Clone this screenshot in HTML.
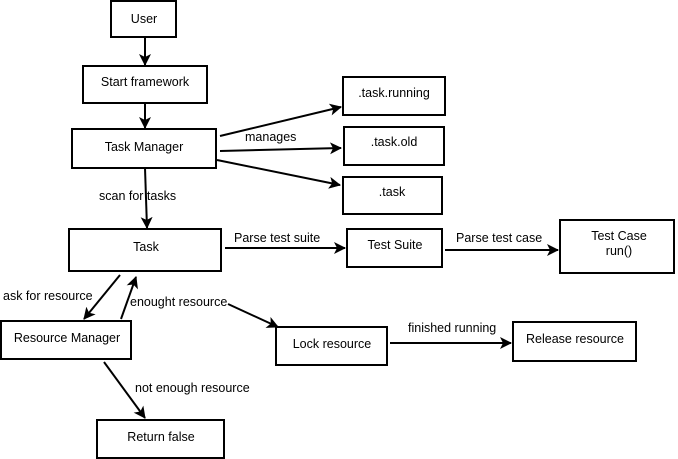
<!DOCTYPE html>
<html><head><style>
body{margin:0;background:#fff}
svg{display:block}
text{font-family:"Liberation Sans",sans-serif;font-size:12.5px;fill:#000}
rect{fill:#fff;stroke:#000;stroke-width:2}
line{stroke:#000;stroke-width:2}
</style></head><body>
<svg width="678" height="459" viewBox="0 0 678 459">
<defs><marker id="a" markerWidth="12" markerHeight="12" refX="11" refY="6" orient="auto" markerUnits="userSpaceOnUse"><path d="M0,0 L12,6 L0,12 L3,6 z" fill="#000"/></marker></defs>
<rect x="111" y="1" width="65" height="36"/><text x="144" y="23" text-anchor="middle">User</text>
<rect x="83" y="66" width="124" height="37"/><text x="145" y="86" text-anchor="middle">Start framework</text>
<rect x="72" y="129" width="144" height="39"/><text x="144" y="151" text-anchor="middle">Task Manager</text>
<rect x="343" y="77" width="102" height="38"/><text x="394" y="97" text-anchor="middle">.task.running</text>
<rect x="344" y="127" width="100" height="38"/><text x="394" y="146" text-anchor="middle">.task.old</text>
<rect x="343" y="177" width="99" height="37"/><text x="392" y="196" text-anchor="middle">.task</text>
<rect x="69" y="229" width="152" height="42"/><text x="146" y="251" text-anchor="middle">Task</text>
<rect x="347" y="229" width="95" height="38"/><text x="395" y="249" text-anchor="middle">Test Suite</text>
<rect x="560" y="220" width="114" height="53"/><text x="619" y="240" text-anchor="middle">Test Case</text><text x="619" y="255" text-anchor="middle">run()</text>
<rect x="1" y="321" width="130" height="38"/><text x="67" y="342" text-anchor="middle">Resource Manager</text>
<rect x="276" y="327" width="111" height="38"/><text x="332" y="348" text-anchor="middle">Lock resource</text>
<rect x="513" y="322" width="123" height="39"/><text x="575" y="343" text-anchor="middle">Release resource</text>
<rect x="97" y="420" width="127" height="38"/><text x="161" y="441" text-anchor="middle">Return false</text>
<line x1="145" y1="37" x2="145" y2="65" marker-end="url(#a)"/>
<line x1="145" y1="103" x2="145" y2="128" marker-end="url(#a)"/>
<line x1="220" y1="136" x2="341" y2="107" marker-end="url(#a)"/>
<line x1="220" y1="151" x2="341" y2="148" marker-end="url(#a)"/>
<line x1="217" y1="160" x2="340" y2="185" marker-end="url(#a)"/>
<line x1="145" y1="168" x2="147" y2="228" marker-end="url(#a)"/>
<line x1="225" y1="248" x2="345" y2="248" marker-end="url(#a)"/>
<line x1="445" y1="250" x2="558" y2="250" marker-end="url(#a)"/>
<line x1="120" y1="275" x2="84" y2="319" marker-end="url(#a)"/>
<line x1="121" y1="319" x2="136" y2="277" marker-end="url(#a)"/>
<line x1="228" y1="304" x2="278" y2="327" marker-end="url(#a)"/>
<line x1="390" y1="343" x2="511" y2="343" marker-end="url(#a)"/>
<line x1="104" y1="362" x2="145" y2="418" marker-end="url(#a)"/>
<text x="245" y="141">manages</text>
<text x="99" y="200">scan for tasks</text>
<text x="234" y="242">Parse test suite</text>
<text x="456" y="242">Parse test case</text>
<text x="3" y="300">ask for resource</text>
<text x="130" y="306">enought resource</text>
<text x="408" y="332">finished running</text>
<text x="135" y="392">not enough resource</text>
</svg>
</body></html>
